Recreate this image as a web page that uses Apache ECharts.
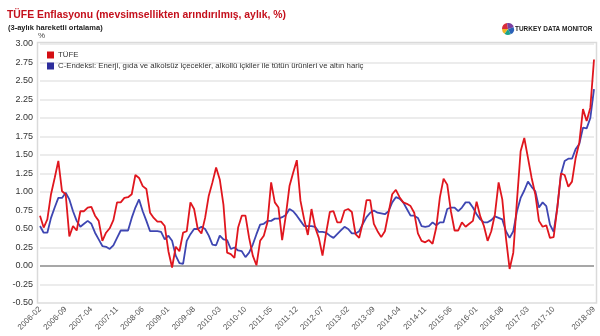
<!DOCTYPE html>
<html>
<head>
<meta charset="utf-8">
<script src="https://cdn.jsdelivr.net/npm/echarts@6/dist/echarts.min.js"></script>
<style>
html,body{margin:0;padding:0;background:#fff;}
#c{width:600px;height:336px;}
</style>
</head>
<body>
<div id="c"></div>
<script>
// Month categories 2006-02 .. 2018-09
var categories = [];
(function(){
  var y = 2006, m = 2;
  while (y < 2018 || (y === 2018 && m <= 9)) {
    categories.push(y + '-' + (m < 10 ? '0' + m : m));
    m++; if (m > 12) { m = 1; y++; }
  }
})();

var tufe = [
0.68,0.52,0.63,0.97,1.19,1.42,1.01,0.97,0.40,0.54,
0.48,0.74,0.74,0.79,0.80,0.68,0.61,0.34,0.45,0.51,
0.62,0.86,0.86,0.92,0.93,0.97,1.23,1.19,1.08,1.04,
0.72,0.65,0.60,0.60,0.54,0.20,-0.02,0.26,0.20,0.45,
0.47,0.86,0.77,0.50,0.44,0.65,0.95,1.13,1.33,1.17,
0.83,0.18,0.16,0.11,0.52,0.68,0.68,0.38,0.14,0.01,
0.34,0.41,0.59,1.13,0.86,0.79,0.35,0.68,1.08,1.26,
1.43,0.88,0.63,0.42,0.77,0.52,0.38,0.14,0.45,0.73,
0.74,0.59,0.59,0.75,0.77,0.73,0.43,0.38,0.59,0.89,
0.89,0.57,0.47,0.39,0.47,0.72,0.97,1.03,0.93,0.86,
0.84,0.81,0.72,0.44,0.34,0.32,0.35,0.30,0.52,0.93,
1.18,1.10,0.74,0.48,0.48,0.59,0.53,0.57,0.61,0.87,
0.67,0.54,0.34,0.47,0.70,1.13,0.90,0.38,-0.04,0.18,
0.88,1.55,1.73,1.46,1.19,0.97,0.61,0.53,0.55,0.38,
0.39,0.79,1.25,1.23,1.07,1.14,1.46,1.67,2.12,1.96,
2.14,2.79
];

var cEndeksi = [
0.54,0.45,0.45,0.65,0.79,0.92,0.92,0.99,0.90,0.74,
0.61,0.53,0.57,0.61,0.57,0.45,0.36,0.27,0.26,0.23,
0.28,0.38,0.48,0.48,0.48,0.65,0.79,0.90,0.74,0.61,
0.47,0.47,0.47,0.46,0.36,0.41,0.34,0.14,0.04,0.03,
0.34,0.43,0.50,0.50,0.53,0.50,0.41,0.29,0.28,0.41,
0.36,0.35,0.23,0.25,0.21,0.20,0.12,0.18,0.29,0.43,
0.56,0.57,0.61,0.61,0.64,0.64,0.66,0.69,0.77,0.74,
0.68,0.61,0.54,0.54,0.54,0.53,0.46,0.46,0.45,0.41,
0.38,0.43,0.48,0.53,0.50,0.44,0.44,0.47,0.57,0.66,
0.72,0.75,0.72,0.71,0.70,0.74,0.86,0.93,0.91,0.86,
0.77,0.68,0.68,0.65,0.54,0.53,0.54,0.59,0.55,0.59,
0.59,0.77,0.79,0.79,0.74,0.79,0.86,0.86,0.79,0.70,
0.63,0.59,0.59,0.62,0.67,0.65,0.63,0.47,0.38,0.47,
0.74,0.92,1.02,1.14,1.07,1.01,0.79,0.86,0.81,0.56,
0.46,0.79,1.24,1.42,1.45,1.45,1.58,1.65,1.87,1.86,
2.00,2.39
];

var seriesNames = ['TÜFE', 'C-Endeksi: Enerji, gıda ve alkolsüz içecekler, alkollü içkiler ile tütün ürünleri ve altın hariç'];
var yMin = -0.5, yMax = 3, yStep = 0.25;

var FONT = '"Liberation Sans", Arial, sans-serif';
var gridColors = [];
for (var k = 0; k <= 14; k++) gridColors.push(k === 2 ? '#8a8a8a' : '#e6e6e6');

var chart = echarts.init(document.getElementById('c'), null, {renderer: 'canvas'});
chart.setOption({
  animation: false,
  backgroundColor: '#fff',
  textStyle: {fontFamily: FONT},
  title: [
    {text: 'TÜFE Enflasyonu (mevsimsellikten arındırılmış, aylık, %)', left: 2, top: 5,
     textStyle: {color: '#c4101c', fontSize: 10.4, fontWeight: 'bold', fontFamily: FONT}},
    {text: '(3-aylık hareketli ortalama)', left: 3, top: 19,
     textStyle: {color: '#222', fontSize: 7.5, fontWeight: 'bold', fontFamily: FONT}}
  ],
  legend: {
    left: 42, top: 46, orient: 'vertical', icon: 'rect', itemWidth: 7, itemHeight: 7, itemGap: 3,
    textStyle: {fontSize: 7.8, color: '#333', fontFamily: FONT, padding: [0,0,0,-1]},
    data: seriesNames
  },
  grid: {left: 40, right: 6, top: 44, bottom: 33},
  xAxis: {
    type: 'category', data: categories, boundaryGap: false,
    axisLine: {show: false}, axisTick: {show: false},
    axisLabel: {
      rotate: 45, fontSize: 8, color: '#555', margin: 5, fontFamily: FONT,
      interval: function(i){ return (i % 7 === 0 && i <= 140) || i === categories.length - 1; },
      showMaxLabel: true
    },
    splitLine: {show: false}
  },
  yAxis: {
    type: 'value', min: yMin, max: yMax, interval: yStep,
    axisLine: {show: false}, axisTick: {show: false},
    axisLabel: {fontSize: 9, color: '#333', margin: 7, fontFamily: FONT,
      formatter: function(v){ return v.toFixed(2); }},
    splitLine: {lineStyle: {color: gridColors, width: 1.5}}
  },
  graphic: [
    {type: 'rect', silent: true, z: 0, shape: {x: 37.5, y: 42.5, width: 559, height: 260.5},
     style: {fill: 'none', stroke: '#dadada', lineWidth: 1.5}},
    {type: 'text', x: 38, y: 32, style: {text: '%', fontSize: 8, fill: '#444', fontFamily: FONT}},
    {type: 'sector', shape: {cx: 508, cy: 29, r: 6, startAngle: Math.PI*1.0, endAngle: Math.PI*1.45}, style: {fill: '#d92d3a'}},
    {type: 'sector', shape: {cx: 508, cy: 29, r: 6, startAngle: Math.PI*1.45, endAngle: Math.PI*1.9}, style: {fill: '#7b3fa0'}},
    {type: 'sector', shape: {cx: 508, cy: 29, r: 6, startAngle: Math.PI*1.9, endAngle: Math.PI*2.35}, style: {fill: '#2b62b8'}},
    {type: 'sector', shape: {cx: 508, cy: 29, r: 6, startAngle: Math.PI*2.35, endAngle: Math.PI*2.7}, style: {fill: '#1aa38a'}},
    {type: 'sector', shape: {cx: 508, cy: 29, r: 6, startAngle: Math.PI*2.7, endAngle: Math.PI*3.0}, style: {fill: '#f0b323'}},
    {type: 'text', x: 515, y: 25, scaleX: 0.86, style: {text: 'TURKEY DATA MONITOR', fontSize: 7.5, fontWeight: 'bold', fill: '#222', fontFamily: FONT}}
  ],
  series: [
    {name: seriesNames[0], type: 'line', data: tufe, showSymbol: false, symbol: 'none',
     lineStyle: {color: '#e0161e', width: 1.8}, itemStyle: {color: '#d40f14'}, z: 3},
    {name: seriesNames[1], type: 'line', data: cEndeksi, showSymbol: false, symbol: 'none',
     lineStyle: {color: '#3e46b2', width: 1.8}, itemStyle: {color: '#2d2d9c'}, z: 2}
  ]
});
</script>
</body>
</html>
